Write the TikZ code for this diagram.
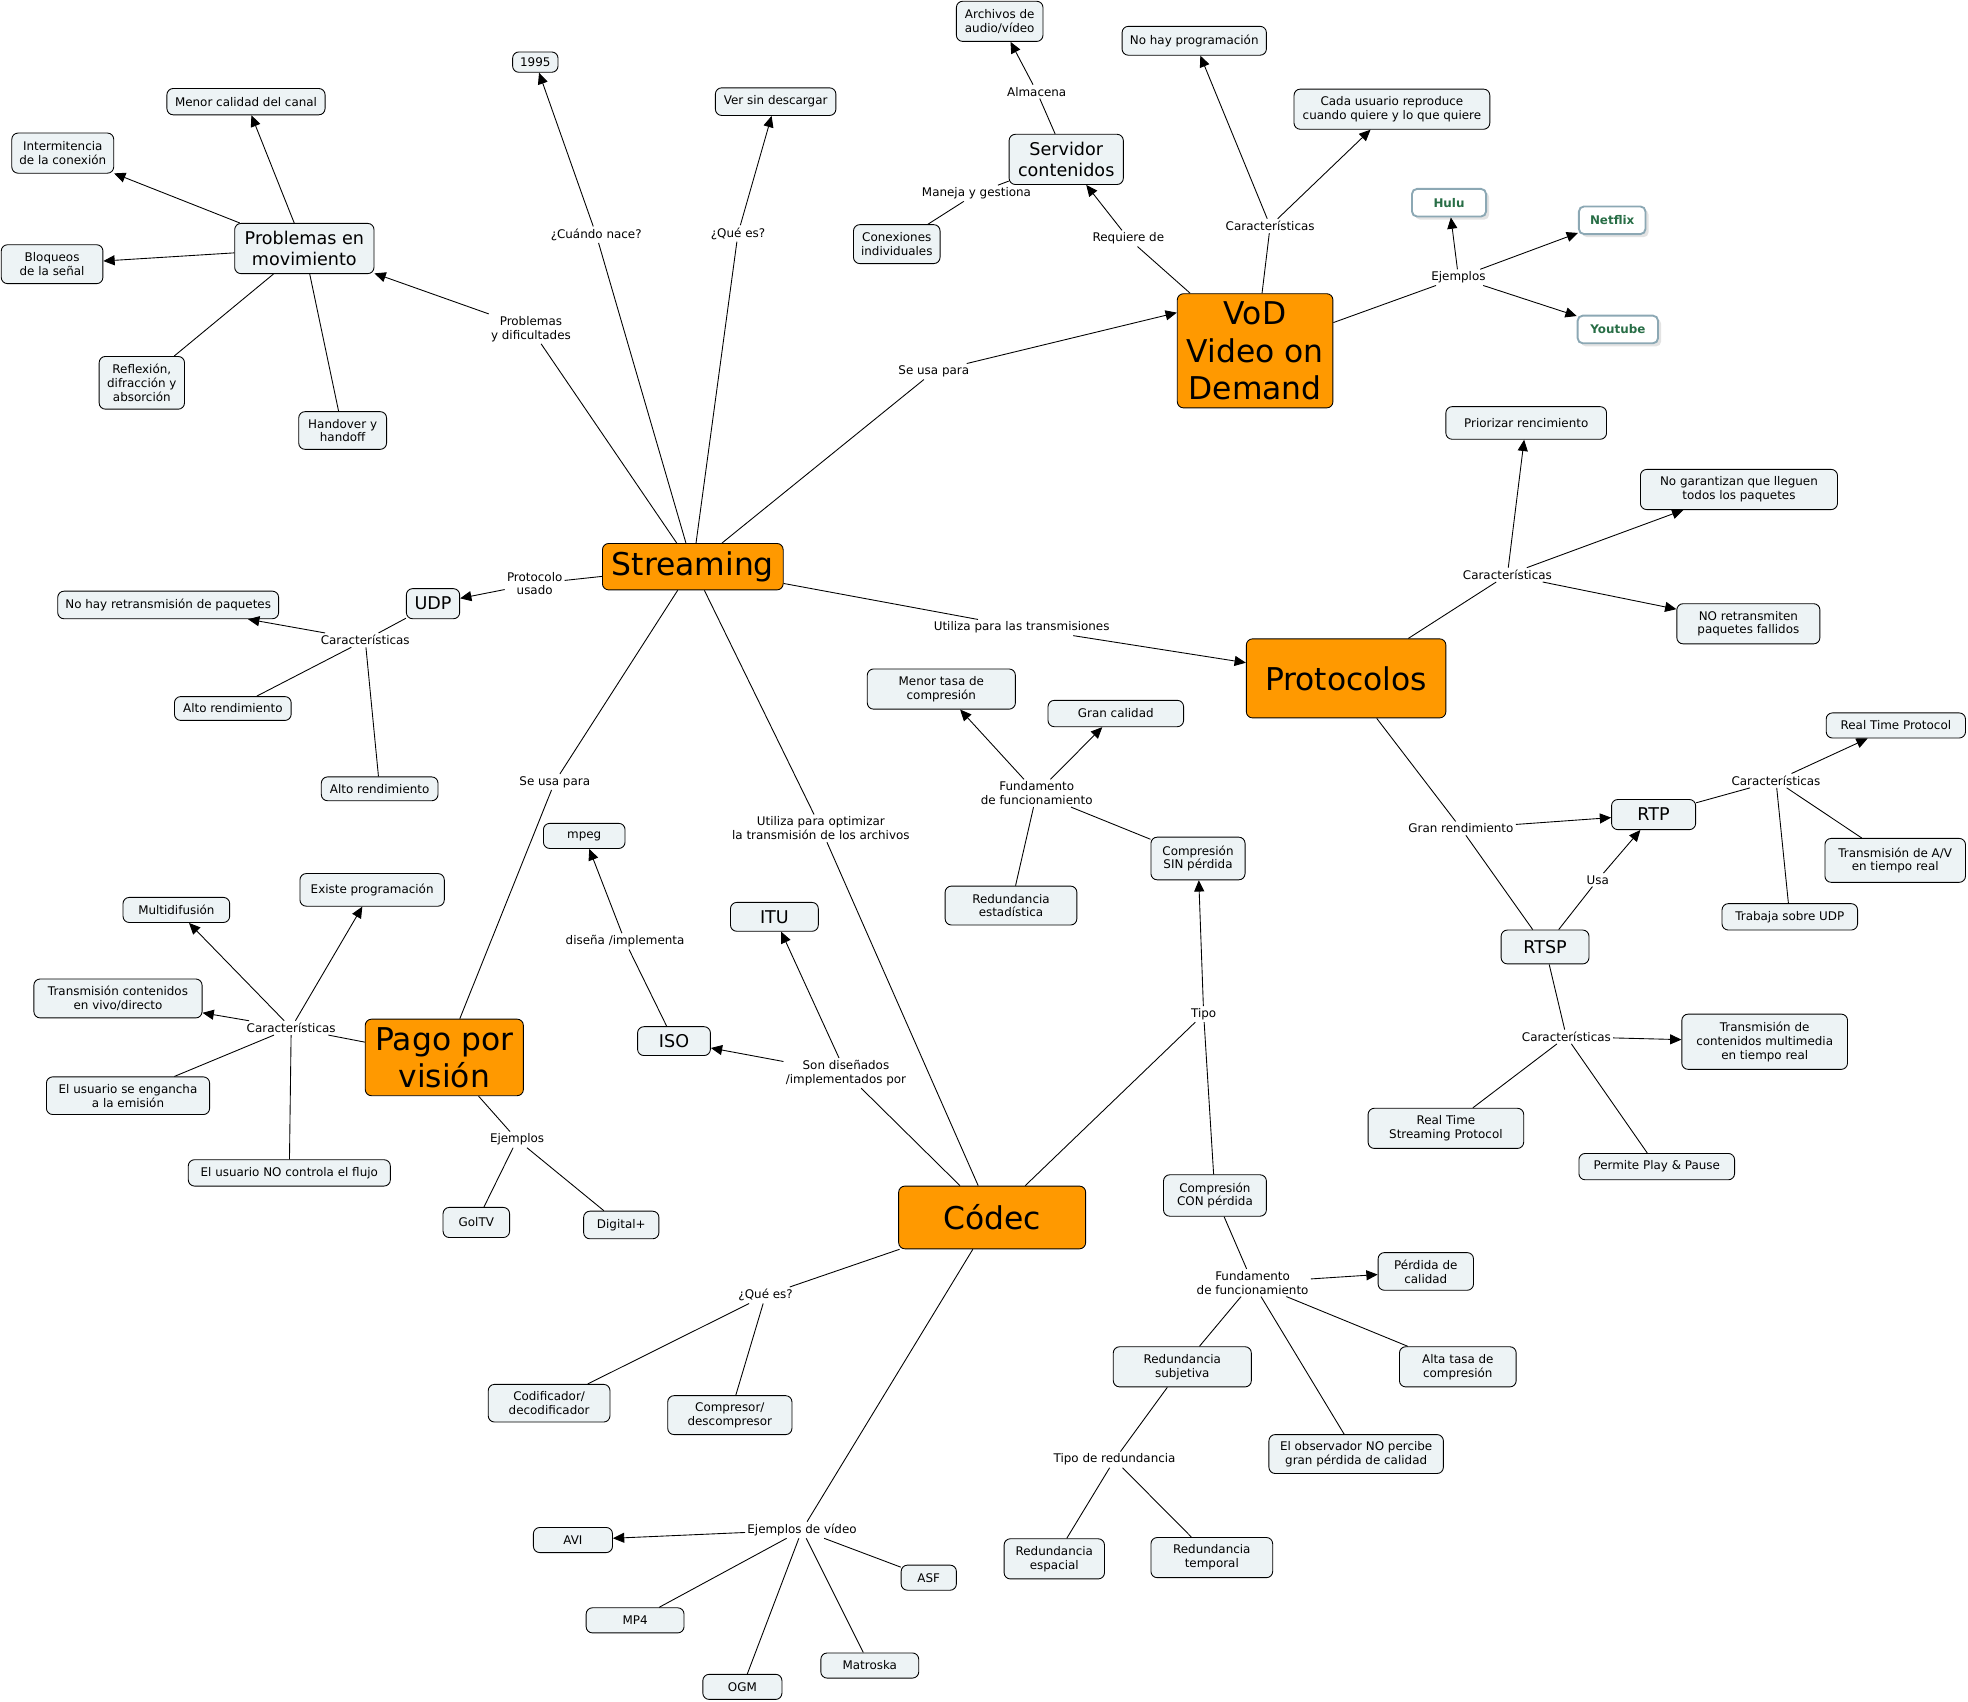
\documentclass[tikz,border=0pt]{standalone}
\usepackage{fontspec}
\setmainfont{DejaVu Sans}
\usetikzlibrary{arrows.meta,shadows}

\definecolor{conceptfill}{RGB}{237,243,245}
\definecolor{mainfill}{RGB}{255,153,0}
\definecolor{exborder}{RGB}{140,168,180}
\definecolor{extext}{RGB}{40,110,70}

\newcommand{\fsmall}{\fontsize{9.5}{11}\selectfont}
\newcommand{\fmid}{\fontsize{14}{16.5}\selectfont}
\newcommand{\fbig}{\fontsize{25}{29.5}\selectfont}

\tikzset{
  concept/.style={draw, rounded corners=5pt, fill=conceptfill, align=center,
    inner xsep=6pt, inner ysep=4.5pt, font=\fsmall},
  midconcept/.style={concept, font=\fmid, inner xsep=6.5pt, inner ysep=3.5pt},
  mainconcept/.style={draw, rounded corners=5pt, fill=mainfill, align=center,
    inner sep=2pt, font=\fbig},
  example/.style={draw=exborder, line width=1.5pt, rounded corners=4pt, fill=white,
    font=\fsmall\bfseries, text=extext, inner xsep=5pt, minimum height=22pt,
    drop shadow={shadow xshift=2.5pt, shadow yshift=-2.5pt, fill=black!22}},
  link/.style={align=center, font=\fsmall, inner sep=1.5pt},
  arr/.style={-{Triangle[length=9pt,width=8pt]}},
  sz/.style 2 args={minimum width=#1pt, minimum height=#2pt},
}

\begin{document}
\begin{tikzpicture}[x=1pt, y=-1pt, line width=0.7pt]

    \useasboundingbox (0, 0) rectangle (1568, 1356);

    %% Concept map of streaming

    % Main concepts
    \node[mainconcept, sz={144}{37}] (stream) at (552, 451.5) {Streaming};
    \node[mainconcept, sz={124}{91}] (vod) at (1000, 279.5) {VoD\\Video on\\Demand};
    \node[mainconcept, sz={159}{63}] (prot) at (1072.5, 540.5) {Protocolos};
    \node[mainconcept, sz={126}{61}] (pago) at (354, 842.5) {Pago por\\visión};
    \node[mainconcept, sz={149}{50}] (codec) at (790.5, 970) {Códec};

    % Streaming: top
    \node[concept] (y1995) at (426.5, 49.5) {1995};
    \node[concept, sz={96}{22}] (versin) at (618, 81) {Ver sin descargar};
    \node[link] (lcuando) at (475, 187) {¿Cuándo nace?};
    \node[link] (lquees) at (588, 186) {¿Qué es?};
    \draw (stream) -- (lcuando);
    \draw[arr] (lcuando) -- (y1995);
    \draw (stream) -- (lquees);
    \draw[arr] (lquees) -- (versin);

    % Problemas en movimiento
    \node[midconcept, sz={111}{40}] (pm) at (242.5, 198) {Problemas en\\movimiento};
    \node[concept, sz={126}{21}] (menor) at (196, 81) {Menor calidad del canal};
    \node[concept, sz={81}{32}] (interm) at (50, 122) {Intermitencia\\de la conexión};
    \node[concept, sz={81}{31}] (bloq) at (41.5, 210.5) {Bloqueos\\de la señal};
    \node[concept, sz={68}{42}] (refl) at (113, 305) {Reflexión,\\difracción y\\absorción};
    \node[concept, sz={70}{30}] (hand) at (273, 343) {Handover y\\handoff};
    \node[link] (lproblemas) at (423, 262) {Problemas\\y dificultades};
    \draw (stream) -- (lproblemas);
    \draw[arr] (lproblemas) -- (pm);
    \foreach \t in {menor, interm, bloq}
        \draw[arr] (pm) -- (\t);
    \foreach \t in {refl, hand}
        \draw (pm) -- (\t);

    % VoD
    \node[link] (lseusa) at (744, 296) {Se usa para};
    \draw (stream) -- (lseusa);
    \draw[arr] (lseusa) -- (vod.154);
    \node[midconcept, sz={91}{40}] (servidor) at (849.5, 127) {Servidor\\contenidos};
    \node[concept, sz={69}{32}] (archivos) at (796.5, 17) {Archivos de\\audio/vídeo};
    \node[concept, sz={69}{31}] (conex) at (714.5, 194.5) {Conexiones\\individuales};
    \node[link] (lrequiere) at (899, 190) {Requiere de};
    \node[link] (lalmacena) at (826, 73) {Almacena};
    \node[link] (lmaneja) at (778, 154) {Maneja y gestiona};
    \draw (vod) -- (lrequiere);
    \draw[arr] (lrequiere) -- (servidor);
    \draw (servidor) -- (lalmacena);
    \draw[arr] (lalmacena) -- (archivos);
    \draw (servidor) -- (lmaneja);
    \draw (lmaneja) -- (conex);
    \node[concept, sz={115}{23}] (noprog) at (951.5, 32.5) {No hay programación};
    \node[concept, sz={156}{32}] (cada) at (1109, 87) {Cada usuario reproduce\\cuando quiere y lo que quiere};
    \node[link] (lcarvod) at (1012, 180) {Características};
    \draw (vod) -- (lcarvod);
    \foreach \t in {noprog, cada}
        \draw[arr] (lcarvod) -- (\t);
    \node[example, minimum width=59pt] (hulu) at (1154.5, 161.5) {Hulu};
    \node[example, minimum width=53pt] (netflix) at (1284.5, 175.5) {Netflix};
    \node[example, minimum width=64pt] (youtube) at (1289, 262.5) {Youtube};
    \node[link] (lejvod) at (1162, 221) {Ejemplos};
    \draw (vod) -- (lejvod);
    \foreach \t in {hulu, netflix, youtube}
        \draw[arr] (lejvod) -- (\t);

    % Protocolos
    \node[link] (lutiliza) at (814, 500) {Utiliza para las transmisiones};
    \draw (stream) -- (lutiliza);
    \draw[arr] (lutiliza) -- (prot);
    \node[concept, sz={128}{26}] (prior) at (1216, 337) {Priorizar rencimiento};
    \node[concept, sz={157}{32}] (nogar) at (1385.5, 390) {No garantizan que lleguen\\todos los paquetes};
    \node[concept, sz={114}{32}] (noretr) at (1393, 497) {NO retransmiten\\paquetes fallidos};
    \node[link] (lcarprot) at (1201, 458) {Características};
    \draw (prot) -- (lcarprot);
    \foreach \t in {prior, nogar, noretr}
        \draw[arr] (lcarprot) -- (\t);

    % RTP y RTSP
    \node[midconcept, sz={67}{24}] (rtp) at (1317.5, 649) {RTP};
    \node[midconcept, sz={70}{27}] (rtsp) at (1231, 754.5) {RTSP};
    \node[link] (lgran) at (1164, 660) {Gran rendimiento};
    \node[link] (lusa) at (1273, 701) {Usa};
    \draw (prot) -- (lgran);
    \draw[arr] (lgran) -- (rtp);
    \draw (lgran) -- (rtsp);
    \draw (rtsp) -- (lusa);
    \draw[arr] (lusa) -- (rtp);
    \node[concept, sz={111}{20}] (realtp) at (1510.5, 578) {Real Time Protocol};
    \node[concept, sz={112}{35}] (transav) at (1510, 685.5) {Transmisión de A/V\\en tiempo real};
    \node[concept, sz={108}{21}] (trabaja) at (1426, 730.5) {Trabaja sobre UDP};
    \node[link] (lcarrtp) at (1415, 622) {Características};
    \draw (rtp) -- (lcarrtp);
    \draw[arr] (lcarrtp) -- (realtp);
    \foreach \t in {transav, trabaja}
        \draw (lcarrtp) -- (\t);
    \node[concept, sz={132}{44}] (transmm) at (1406, 830) {Transmisión de\\contenidos multimedia\\en tiempo real};
    \node[concept, sz={124}{32}] (rtspname) at (1152, 899) {Real Time\\Streaming Protocol};
    \node[concept, sz={124}{21}] (play) at (1320, 929.5) {Permite Play \& Pause};
    \node[link] (lcarrtsp) at (1248, 826) {Características};
    \draw (rtsp) -- (lcarrtsp);
    \draw[arr] (lcarrtsp) -- (transmm);
    \foreach \t in {rtspname, play}
        \draw (lcarrtsp) -- (\t);

    % UDP
    \node[midconcept, sz={42}{24}] (udp) at (345, 481) {UDP};
    \node[link] (lprotocolo) at (426, 465) {Protocolo\\usado};
    \draw (stream) -- (lprotocolo);
    \draw[arr] (lprotocolo) -- (udp);
    \node[concept, sz={176}{22}] (noret) at (134, 482) {No hay retransmisión de paquetes};
    \node[concept, sz={93}{19}] (altoa) at (185.5, 564.5) {Alto rendimiento};
    \node[concept, sz={93}{19}] (altob) at (302.5, 628.5) {Alto rendimiento};
    \node[link] (lcarudp) at (291, 510) {Características};
    \draw (udp) -- (lcarudp);
    \draw[arr] (lcarudp) -- (noret);
    \foreach \t in {altoa, altob}
        \draw (lcarudp) -- (\t);

    % Pago por vision
    \node[link] (lseusab) at (442, 623) {Se usa para};
    \draw (stream) -- (lseusab);
    \draw (lseusab) -- (pago);
    \node[concept, sz={115}{26}] (existe) at (296.5, 709) {Existe programación};
    \node[concept, sz={85}{20}] (multi) at (140.5, 725) {Multidifusión};
    \node[concept, sz={134}{31}] (transviv) at (94, 795.5) {Transmisión contenidos\\en vivo/directo};
    \node[concept, sz={130}{30}] (engancha) at (102, 873) {El usuario se engancha\\a la emisión};
    \node[concept, sz={161}{21}] (nocontrola) at (230.5, 934.5) {El usuario NO controla el flujo};
    \node[link] (lcarpago) at (232, 819) {Características};
    \draw (pago) -- (lcarpago);
    \foreach \t in {existe, multi, transviv}
        \draw[arr] (lcarpago) -- (\t);
    \foreach \t in {engancha, nocontrola}
        \draw (lcarpago) -- (\t);
    \node[concept, sz={53}{24}] (goltv) at (379.5, 974) {GolTV};
    \node[concept, sz={60}{22}] (digital) at (495, 976) {Digital+};
    \node[link] (lejpago) at (412, 908) {Ejemplos};
    \draw (pago) -- (lejpago);
    \foreach \t in {goltv, digital}
        \draw (lejpago) -- (\t);

    % Codec: organismos
    \node[link] (loptimizar) at (654, 660) {Utiliza para optimizar\\la transmisión de los archivos};
    \draw (stream) -- (loptimizar);
    \draw (loptimizar) -- (codec);
    \node[midconcept, sz={58}{23}] (iso) at (537, 829.5) {ISO};
    \node[midconcept, sz={70}{23}] (itu) at (617, 730.5) {ITU};
    \node[concept, sz={65}{20}] (mpeg) at (465.5, 666) {mpeg};
    \node[link] (ldisena) at (498, 750) {diseña /implementa};
    \draw (iso) -- (ldisena);
    \draw[arr] (ldisena) -- (mpeg);
    \node[link] (lsondis) at (674, 855) {Son diseñados\\/implementados por};
    \draw (codec) -- (lsondis);
    \foreach \t in {iso, itu}
        \draw[arr] (lsondis) -- (\t);

    % Codec: compresion sin perdida
    \node[concept, sz={75}{34}] (sinperd) at (954.5, 684) {Compresión\\SIN pérdida};
    \node[concept, sz={82}{33}] (conperd) at (968, 952.5) {Compresión\\CON pérdida};
    \node[link] (ltipo) at (959, 808) {Tipo};
    \draw (codec) -- (ltipo);
    \draw[arr] (ltipo) -- (sinperd);
    \draw (ltipo) -- (conperd);
    \node[concept, sz={118}{32}] (menortasa) at (750, 549) {Menor tasa de\\compresión};
    \node[concept, sz={108}{21}] (grancal) at (889, 568.5) {Gran calidad};
    \node[concept, sz={105}{31}] (redest) at (805.5, 721.5) {Redundancia\\estadística};
    \node[link] (lfunda) at (826, 632) {Fundamento\\de funcionamiento};
    \draw (sinperd) -- (lfunda);
    \foreach \t in {menortasa, grancal}
        \draw[arr] (lfunda) -- (\t);
    \draw (lfunda) -- (redest);

    % Codec: compresion con perdida
    \node[concept, sz={76}{30}] (perdcal) at (1136, 1013) {Pérdida de\\calidad};
    \node[concept, sz={93}{32}] (alta) at (1161.5, 1089) {Alta tasa de\\compresión};
    \node[concept, sz={110}{32}] (redsub) at (942, 1089) {Redundancia\\subjetiva};
    \node[concept, sz={139}{31}] (observ) at (1080.5, 1158.5) {El observador NO percibe\\gran pérdida de calidad};
    \node[link] (lfundb) at (998, 1022) {Fundamento\\de funcionamiento};
    \draw (conperd) -- (lfundb);
    \draw[arr] (lfundb) -- (perdcal);
    \foreach \t in {alta, redsub, observ}
        \draw (lfundb) -- (\t);
    \node[concept, sz={80}{32}] (redesp) at (840, 1242) {Redundancia\\espacial};
    \node[concept, sz={97}{32}] (redtemp) at (965.5, 1241) {Redundancia\\temporal};
    \node[link] (ltipored) at (888, 1163) {Tipo de redundancia};
    \draw (redsub) -- (ltipored);
    \foreach \t in {redesp, redtemp}
        \draw (ltipored) -- (\t);

    % Codec: que es y ejemplos
    \node[concept, sz={97}{30}] (codif) at (437.5, 1118) {Codificador/\\decodificador};
    \node[concept, sz={99}{31}] (compr) at (581.5, 1127.5) {Compresor/\\descompresor};
    \node[link] (lquecod) at (610, 1032) {¿Qué es?};
    \draw (codec) -- (lquecod);
    \foreach \t in {codif, compr}
        \draw (lquecod) -- (\t);
    \node[concept, sz={63}{20}] (avi) at (456.5, 1227) {AVI};
    \node[concept, sz={44}{20}] (asf) at (740, 1257) {ASF};
    \node[concept, sz={78}{20}] (mp4) at (506, 1291) {MP4};
    \node[concept, sz={78}{20}] (matroska) at (693, 1327) {Matroska};
    \node[concept, sz={63}{20}] (ogm) at (591.5, 1344) {OGM};
    \node[link] (lejvid) at (639, 1219) {Ejemplos de vídeo};
    \draw (codec) -- (lejvid);
    \draw[arr] (lejvid) -- (avi);
    \foreach \t in {asf, mp4, matroska, ogm}
        \draw (lejvid) -- (\t);

\end{tikzpicture}
\end{document}
